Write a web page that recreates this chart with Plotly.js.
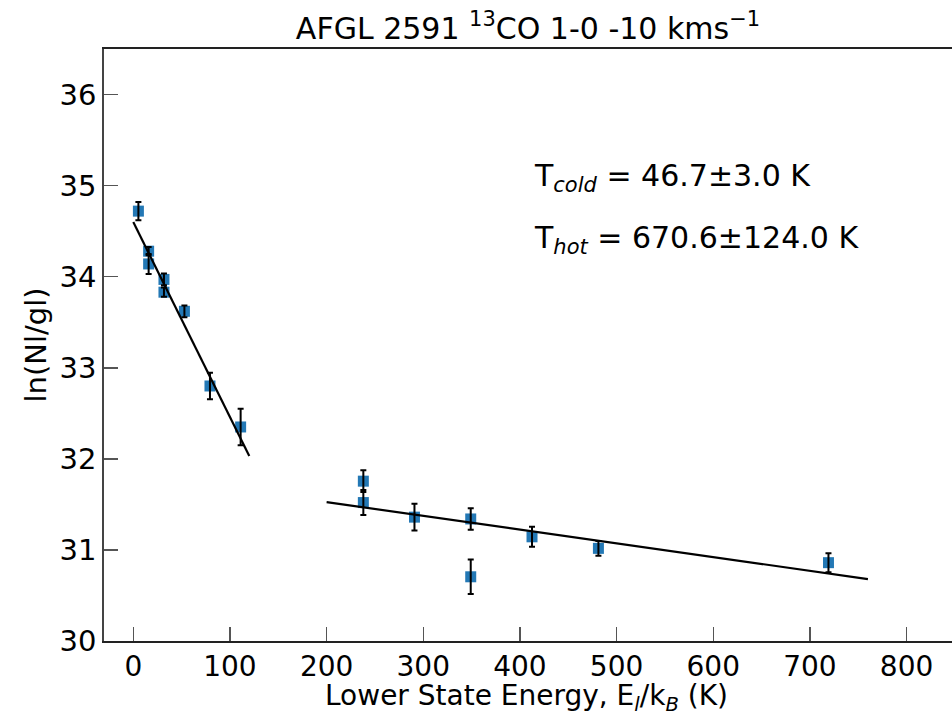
<!DOCTYPE html>
<html>
<head>
<meta charset="utf-8">
<script src="https://cdn.plot.ly/plotly-3.0.1.min.js"></script>
<style>html,body{margin:0;padding:0;background:#fff;}#chart{width:952px;height:715px;}</style>
</head>
<body>
<div id="chart"></div>
<script>
// Cold component (lower state energy, K) and ln(Nl/gl)
var coldE = [5.29, 15.87, 15.87, 31.73, 31.73, 52.89, 79.33, 111.05];
var coldY = [34.72, 34.28, 34.14, 33.97, 33.83, 33.62, 32.80, 32.35];
var coldErr = [0.10, 0.045, 0.11, 0.065, 0.05, 0.065, 0.145, 0.20];
// Hot component
var hotE = [238.0, 238.0, 290.9, 349.1, 349.1, 412.5, 481.2, 719.2];
var hotY = [31.755, 31.52, 31.36, 31.34, 30.705, 31.144, 31.017, 30.86];
var hotErr = [0.12, 0.137, 0.146, 0.118, 0.19, 0.11, 0.08, 0.104];
// Fit lines (endpoints)
var fitColdE = [0, 120];
var fitColdY = [34.60, 32.03];
var fitHotE = [200, 760];
var fitHotY = [31.525, 30.68];
// Ticks
var xTicks = [0, 100, 200, 300, 400, 500, 600, 700, 800];
var yTicks = [30, 31, 32, 33, 34, 35, 36];
// Text
var titleText = 'AFGL 2591 <sup>13</sup>CO 1-0 -10 kms<sup>\u22121</sup>';
var xTitle = 'Lower State Energy, E<sub><i>l</i></sub>/k<sub><i>B</i></sub> (K)';
var yTitle = 'ln(Nl/gl)';
var tColdText = 'T<sub><i>cold</i></sub> = 46.7\u00b13.0 K';
var tHotText = 'T<sub><i>hot</i></sub> = 670.6\u00b1124.0 K';

var allE = coldE.concat(hotE);
var allY = coldY.concat(hotY);
var allErr = coldErr.concat(hotErr);

var FONT = 'DejaVu Sans, sans-serif';

var traces = [
  {x: allE, y: allY, mode: 'markers', type: 'scatter',
   marker: {symbol: 'square', size: 11, color: '#2378b5'}, hoverinfo: 'skip'},
  {x: fitColdE, y: fitColdY, mode: 'lines', type: 'scatter',
   line: {color: '#000', width: 2.2}, hoverinfo: 'skip'},
  {x: fitHotE, y: fitHotY, mode: 'lines', type: 'scatter',
   line: {color: '#000', width: 2.2}, hoverinfo: 'skip'},
  {x: allE, y: allY, mode: 'markers', type: 'scatter',
   marker: {symbol: 'square', size: 11, color: 'rgba(0,0,0,0)'},
   error_y: {type: 'data', array: allErr, visible: true, color: '#000', thickness: 2, width: 3},
   hoverinfo: 'skip'}
];

var layout = {
  width: 952, height: 715,
  margin: {l: 104, r: 0, t: 49, b: 74},
  paper_bgcolor: '#fff', plot_bgcolor: '#fff',
  showlegend: false,
  font: {family: FONT, color: '#000'},
  title: {text: titleText, font: {family: FONT, size: 30, color: '#000'},
          x: 0.5, xanchor: 'center', xref: 'paper', y: 1 - 28/715, yref: 'container', yanchor: 'middle'},
  xaxis: {
    range: [-30.3, 847], tickvals: xTicks, ticktext: xTicks.map(String),
    ticks: 'inside', ticklen: 14, tickwidth: 1.5, tickcolor: '#555',
    showline: true, linecolor: '#222', linewidth: 1.8, mirror: true,
    showgrid: false, zeroline: false,
    tickfont: {family: FONT, size: 28, color: '#000'}
  },
  yaxis: {
    range: [30, 36.5], tickvals: yTicks, ticktext: yTicks.map(String),
    ticks: 'inside', ticklen: 14, tickwidth: 1.5, tickcolor: '#555',
    showline: true, linecolor: '#444', linewidth: 1.8, mirror: false,
    showgrid: false, zeroline: false,
    tickfont: {family: FONT, size: 29, color: '#000'},
    title: {text: yTitle, font: {family: FONT, size: 29, color: '#000'}, standoff: 4}
  },
  annotations: [
    {text: xTitle, xref: 'paper', yref: 'paper', x: (526 - 104) / 848, y: (641 - 697) / 592,
     xanchor: 'center', yanchor: 'middle', showarrow: false, font: {family: FONT, size: 28, color: '#000'}},
    {text: tColdText, xref: 'paper', yref: 'paper', x: (532 - 104) / 848, y: (641 - 177) / 592,
     xanchor: 'left', yanchor: 'middle', showarrow: false, font: {family: FONT, size: 30, color: '#000'}},
    {text: tHotText, xref: 'paper', yref: 'paper', x: (532 - 104) / 848, y: (641 - 240) / 592,
     xanchor: 'left', yanchor: 'middle', showarrow: false, font: {family: FONT, size: 30, color: '#000'}}
  ]
};

Plotly.newPlot('chart', traces, layout, {staticPlot: true, displayModeBar: false});
</script>
</body>
</html>
